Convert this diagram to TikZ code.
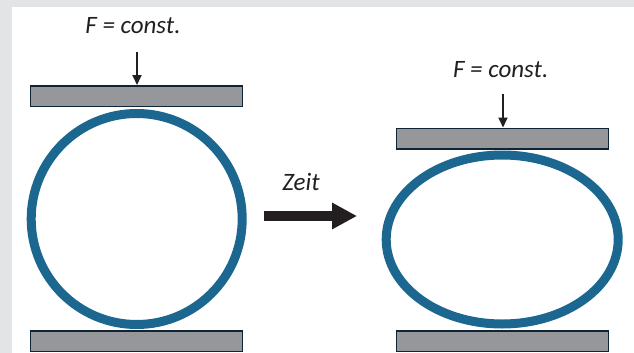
\documentclass[tikz,border=0pt]{standalone}
\usepackage{fontspec}
\setmainfont{Carlito}
\usetikzlibrary{arrows.meta}
\definecolor{framegray}{HTML}{E3E4E6}
\definecolor{plategray}{HTML}{96979B}
\definecolor{platenavy}{HTML}{0F2535}
\definecolor{ringblue}{HTML}{1B6790}
\definecolor{inkdark}{HTML}{231F20}
\tikzset{
  plate/.style={draw=platenavy, fill=plategray, line width=1.5pt, minimum width=212pt, minimum height=20.5pt, inner sep=0pt},
  ring/.style={draw=ringblue, line width=9pt},
  lbl/.style={font=\fontsize{25}{30}\selectfont\itshape, text=inkdark, inner sep=0pt, anchor=base},
  forcearrow/.style={draw=inkdark, line width=1.8pt, -{Triangle[width=9pt,length=10pt]}},
  timearrow/.style={draw=inkdark, line width=10pt, -{Triangle[width=25pt,length=25pt]}}
}
\begin{document}
\begin{tikzpicture}[x=1pt,y=-1pt]
\useasboundingbox (0,0) rectangle (634,353);
\fill[framegray] (0,0) rectangle (634,353);
\fill[white] (12,7.5) rectangle (634,353);
% left state
\node[plate] (pTL) at (136.5,96) {};
\node[plate] (pBL) at (136.5,341) {};
\coordinate (cL) at (136.7,219);
\draw[ring] (cL) circle[radius=105.5];
\node[lbl] (tL) at (133,33.3) {F = const.};
\coordinate (fL) at (137,52);
\draw[forcearrow] (fL) -- (pTL.north -| fL);
% right state
\node[plate] (pTR) at (502.5,138.5) {};
\node[plate] (pBR) at (502.5,341) {};
\coordinate (cR) at (502.2,239.5);
\draw[ring] (cR) ellipse[x radius=116, y radius=84.5];
\node[lbl] (tR) at (500.7,77.3) {F = const.};
\coordinate (fR) at (503,94);
\draw[forcearrow] (fR) -- (pTR.north -| fR);
% time arrow
\node[lbl] (tZ) at (301,190.7) {Zeit};
\coordinate (zA) at (264,216);
\coordinate (zB) at (357,216);
\draw[timearrow] (zA) -- (zB);
\end{tikzpicture}
\end{document}
